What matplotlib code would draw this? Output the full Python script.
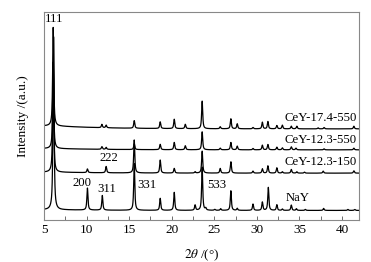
import numpy as np
import matplotlib
matplotlib.use("Agg")
import matplotlib.pyplot as plt
from matplotlib.ticker import MultipleLocator

plt.rcParams['font.family'] = ['Liberation Serif', 'DejaVu Serif']
plt.rcParams['mathtext.fontset'] = 'stix'

# Sample names and vertical offsets (baselines)
names = ["NaY", "CeY-12.3-150", "CeY-12.3-550", "CeY-17.4-550"]
baselines = [29, 141, 211, 274]

# Peak positions (2theta) and heights above baseline for each pattern
nay_pos = [6.12, 10.1, 11.85, 15.6, 18.65, 20.3, 22.75, 23.58, 24.0, 25.05, 25.75, 26.95, 27.7,
           29.55, 30.65, 31.35, 32.35, 33.0, 34.05, 34.65, 35.7, 37.85, 40.7, 41.5]
nay_h = [520, 66, 44, 140, 36, 54, 16, 130, 6, 3, 5, 59, 6,
         19, 25, 69, 17, 4, 16, 5, 3, 6, 3, 3]

c150_pos = [6.08, 10.1, 12.3, 15.6, 18.65, 20.3, 22.75, 23.58, 25.7, 26.95, 29.55, 30.65, 31.3,
            32.35, 33.0, 34.05, 34.7, 35.6, 37.8, 41.4]
c150_h = [330, 11, 19, 99, 39, 14, 4, 66, 14, 34, 6, 13, 22,
          16, 4, 11, 4, 3, 6, 7]

c550_pos = [6.08, 11.8, 12.3, 15.6, 18.65, 20.3, 21.6, 23.58, 25.7, 26.95, 27.7, 29.55, 30.65,
            31.3, 32.35, 33.0, 34.05, 34.6, 37.9, 41.4]
c550_h = [260, 8, 6, 18, 16, 22, 12, 54, 5, 22, 11, 4, 14,
          16, 8, 6, 9, 5, 3, 5]

c174_pos = [6.08, 11.8, 12.3, 15.6, 18.65, 20.3, 21.6, 23.58, 25.7, 26.95, 27.7, 29.55, 30.65,
            31.3, 32.35, 33.0, 34.05, 34.7, 37.2, 37.9, 41.4]
c174_h = [296, 10, 8, 23, 20, 28, 13, 83, 6, 30, 15, 4, 20,
          22, 10, 11, 8, 8, 3, 4, 8]

peaks = [(nay_pos, nay_h), (c150_pos, c150_h), (c550_pos, c550_h), (c174_pos, c174_h)]
bg_amp = [2, 3, 4, 9]   # low-angle background rise

labels_hkl = ["111", "200", "311", "331", "533", "222"]
hkl_xy = [(6.15, 605), (9.5, 110), (12.35, 93), (17.1, 106), (25.3, 106), (12.6, 188)]

fig = plt.figure(figsize=(3.71, 2.62), dpi=100)
ax = fig.add_axes([0.1186, 0.160, 0.849, 0.794])

x = np.linspace(5.05, 42, 6000)
w = 0.075
for (pos, h), b, bg in zip(peaks, baselines, bg_amp):
    y = np.full_like(x, float(b))
    y += bg * np.exp(-np.clip(x - 6.3, 0, None) / 6.0)
    for p, hh in zip(pos, h):
        y += hh * (0.8 * w**2 / ((x - p)**2 + w**2) + 0.2 * np.exp(-((x - p) / (w * 1.2))**2))
    ax.plot(x, y, color='black', lw=0.9)

fs = 9.2
for t, (xx, yy) in zip(labels_hkl, hkl_xy):
    ax.text(xx, yy, t, ha='center', va='center', fontsize=fs)

ax.text(34.8, 65, "NaY", ha='center', va='center', fontsize=fs)
ax.text(41.7, 173, names[1], ha='right', va='center', fontsize=fs)
ax.text(41.7, 240, names[2], ha='right', va='center', fontsize=fs)
ax.text(41.7, 308, names[3], ha='right', va='center', fontsize=fs)

ax.set_xlim(5, 42)
ax.set_ylim(0, 625)
ax.set_yticks([])
ax.xaxis.set_major_locator(MultipleLocator(5))
ax.xaxis.set_minor_locator(MultipleLocator(2.5))
ax.tick_params(axis='x', which='both', direction='in', length=3, width=0.6,
               color='#555555', labelsize=9.5, pad=3)
for s in ax.spines.values():
    s.set_color('#888888')
    s.set_linewidth(0.8)

ax.set_xlabel(r"$2\theta$ /(°)", fontsize=9.5, labelpad=8)
ax.set_ylabel("Intensity /(a.u.)", fontsize=9.5, labelpad=11)

fig.savefig("out.png", dpi=100)
